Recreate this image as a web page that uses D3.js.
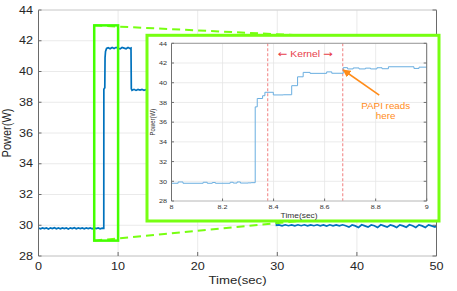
<!DOCTYPE html>
<html><head><meta charset="utf-8">
<script src="https://cdn.jsdelivr.net/npm/d3@7"></script>
<style>
body{margin:0;background:#fff}
svg{display:block}
text{font-family:"Liberation Sans",Arial,Helvetica,sans-serif}
</style>
</head><body>
<svg id="c" width="457" height="291"></svg>
<script>
// ---------- data ----------
const mainXTicks = [0, 10, 20, 30, 40, 50];
const mainYTicks = [28, 30, 32, 34, 36, 38, 40, 42, 44];
const insetXTicks = [8, 8.2, 8.4, 8.6, 8.8, 9];
const insetXTickLabels = ["8", "8.2", "8.4", "8.6", "8.8", "9"];
const insetYTicks = [28, 30, 32, 34, 36, 38, 40, 42, 44];

const mainTime = [
  0,0.25,0.5,0.75,1,1.25,1.5,1.75,2,2.25,2.5,2.75,3,3.25,3.5,3.75,4,4.25,4.5,4.75,
  5,5.25,5.5,5.75,6,6.25,6.5,6.75,7,7.25,7.5,7.75,8,8.2,
  8.21,8.33,8.36,8.42,8.55,
  8.75,9,9.25,9.5,9.75,10,10.25,10.5,10.75,11,11.25,11.5,11.62,
  11.66,11.75,12,12.25,12.5,12.75,13,13.25,13.5,13.75,14,16,18,20,22,24,26,28,29.85,
  29.9,30.2,30.6,31.0,31.4,31.8,32.2,32.6,33.0,33.4,33.8,34.2,34.6,35.0,35.4,35.8,36.2,36.6,
  37.0,37.4,37.8,38.2,38.6,39.0,39.4,39.8,40.2,40.6,41.0,41.4,41.8,42.2,42.6,43.0,43.4,43.8,
  44.2,44.6,45.0,45.4,45.8,46.2,46.6,47.0,47.4,47.8,48.2,48.6,49.0,49.4,49.8,50.0
];
const mainPower = [
  29.82,29.77,29.83,29.78,29.82,29.76,29.83,29.78,29.84,29.77,29.82,29.77,29.83,29.78,29.82,29.76,29.83,29.78,29.84,29.77,
  29.82,29.78,29.83,29.77,29.82,29.78,29.83,29.77,29.82,29.78,29.83,29.77,29.81,29.80,
  38.85,38.95,40.9,41.3,41.5,
  41.55,41.48,41.56,41.5,41.57,41.5,41.47,41.56,41.52,41.48,41.56,41.5,41.53,
  38.88,38.78,38.84,38.77,38.83,38.79,38.84,38.78,38.82,38.8,38.82,38.8,38.81,38.79,38.81,38.8,38.8,38.8,38.8,
  30.0,
  30.02,29.96,30.03,29.97,30.02,29.96,30.03,29.97,30.03,29.96,
  30.02,29.97,30.03,29.96,30.02,29.95,30.03,29.96,30.02,29.96,
  30.03,29.97,29.88,30.02,29.96,29.86,30.03,29.96,29.88,30.02,
  29.97,29.85,30.03,29.96,29.88,30.02,29.96,29.86,30.02,29.96,
  29.87,30.03,29.97,29.86,30.02,29.96,29.86,30.02,29.96,29.88,
  29.98
];

const insetTime = [
  8.000,8.026,8.045,8.124,8.140,8.160,8.172,8.230,8.242,8.257,8.270,8.300,8.312,
  8.328,8.336,8.357,8.366,8.399,8.438,8.471,8.494,8.516,8.543,8.608,8.628,
  8.673,8.690,8.712,8.735,8.760,8.780,8.805,8.825,8.850,8.950,8.970,9.000
];
const insetPower = [
  29.80,29.93,29.80,29.90,29.80,29.88,29.80,29.90,29.82,29.93,29.82,29.84,29.86,
  37.55,38.40,38.68,39.03,38.76,38.78,39.70,40.60,41.05,40.95,41.10,40.96,
  41.53,41.40,41.50,41.40,41.48,41.40,41.52,41.42,41.62,41.45,41.58,41.58
];

const zoomTime = [7, 10];
const zoomPower = [29, 43];
const kernelTimes = [8.377, 8.671];
const kernelLabel = ["\u2190", " Kernel ", "\u2192"];
const papiHead = [8.673, 41.29];
const papiTail = [8.814, 38.75];
const papiLines = ["PAPI reads", "here"];

// ---------- layout ----------
const svg = d3.select("#c");
const mx = d3.scaleLinear([0, 50], [38.5, 436.5]);
const my = d3.scaleLinear([28, 44], [256, 10]);
const ix = d3.scaleLinear([8, 9], [171.5, 426.7]);
const iy = d3.scaleLinear([28, 44], [201, 43.3]);
const insetBox = {x0: 147, y0: 35.3, x1: 439, y1: 221};
const SX = 1.2;
const lime = "#77ff11", limeRect = "#44ff00";

function txt(x, y, s, size, opt = {}) {
  const t = svg.append("text")
    .attr("transform", `translate(${x},${y}) scale(${SX},1)` + (opt.rot ? ` rotate(${opt.rot})` : ""))
    .attr("font-size", size)
    .attr("fill", opt.fill || "#262626")
    .attr("text-anchor", opt.anchor || "middle")
    .attr("dominant-baseline", "central");
  if (s !== null) t.text(s);
  return t;
}

// ---------- main axes ----------
const gGrid = svg.append("g").attr("stroke", "#e4e4e4").attr("stroke-width", 0.8);
mainXTicks.forEach(v => gGrid.append("line").attr("x1", mx(v)).attr("x2", mx(v)).attr("y1", my(44)).attr("y2", my(28)));
mainYTicks.forEach(v => gGrid.append("line").attr("y1", my(v)).attr("y2", my(v)).attr("x1", mx(0)).attr("x2", mx(50)));

const mainPts = mainTime.map((t, i) => [t, mainPower[i]]);
svg.append("path")
  .attr("d", d3.line().x(d => mx(d[0])).y(d => my(d[1]))(mainPts))
  .attr("fill", "none").attr("stroke", "#0072BD").attr("stroke-width", 1.7);

const gAx = svg.append("g").attr("stroke", "#6a6a6a").attr("stroke-width", 1);
gAx.append("line").attr("x1", mx(0)).attr("x2", mx(0)).attr("y1", my(44)).attr("y2", my(28));
gAx.append("line").attr("x1", mx(50)).attr("x2", mx(50)).attr("y1", my(44)).attr("y2", my(28));
gAx.append("line").attr("x1", mx(0)).attr("x2", mx(50)).attr("y1", my(28)).attr("y2", my(28)).attr("stroke", "#c8c8c8");
gAx.append("line").attr("x1", mx(0)).attr("x2", mx(50)).attr("y1", my(44)).attr("y2", my(44)).attr("stroke", "#d0d0d0");
mainXTicks.forEach(v => {
  gAx.append("line").attr("x1", mx(v)).attr("x2", mx(v)).attr("y1", my(28)).attr("y2", my(28) - 4);
  txt(mx(v), 266, String(v), 10.5);
});
mainYTicks.forEach(v => {
  gAx.append("line").attr("x1", mx(50)).attr("x2", mx(50) - 4).attr("y1", my(v)).attr("y2", my(v));
  gAx.append("line").attr("x1", mx(0)).attr("x2", mx(0) + 3).attr("y1", my(v)).attr("y2", my(v));
  txt(33, my(v), String(v), 10.5, {anchor: "end"});
});
txt((mx(0) + mx(50)) / 2, 280, "Time(sec)", 11);
txt(7, (my(28) + my(44)) / 2, "Power(W)", 11, {rot: -90});

// ---------- zoom connectors ----------
const dash = svg.append("g").attr("stroke", lime).attr("stroke-width", 2).attr("stroke-dasharray", "8,5").attr("fill", "none");
dash.append("line").attr("x1", mx(zoomTime[0])).attr("y1", my(zoomPower[1])).attr("x2", 300).attr("y2", insetBox.y0);
dash.append("line").attr("x1", mx(zoomTime[0])).attr("y1", my(zoomPower[0])).attr("x2", 300).attr("y2", insetBox.y1);

svg.append("rect")
  .attr("x", mx(zoomTime[0])).attr("y", my(zoomPower[1]))
  .attr("width", mx(zoomTime[1]) - mx(zoomTime[0])).attr("height", my(zoomPower[0]) - my(zoomPower[1]))
  .attr("fill", "none").attr("stroke", limeRect).attr("stroke-width", 2.5);

// ---------- inset ----------
svg.append("rect")
  .attr("x", insetBox.x0).attr("y", insetBox.y0)
  .attr("width", insetBox.x1 - insetBox.x0).attr("height", insetBox.y1 - insetBox.y0)
  .attr("fill", "#fff").attr("stroke", lime).attr("stroke-width", 3);

const iGrid = svg.append("g").attr("stroke", "#e6e6e6").attr("stroke-width", 0.8);
insetXTicks.forEach(v => iGrid.append("line").attr("x1", ix(v)).attr("x2", ix(v)).attr("y1", iy(44)).attr("y2", iy(28)));
insetYTicks.forEach(v => iGrid.append("line").attr("y1", iy(v)).attr("y2", iy(v)).attr("x1", ix(8)).attr("x2", ix(9)));

kernelTimes.forEach(t => svg.append("line")
  .attr("x1", ix(t)).attr("x2", ix(t)).attr("y1", iy(44)).attr("y2", iy(28))
  .attr("stroke", "#f28a8a").attr("stroke-width", 1.1).attr("stroke-dasharray", "3,2"));

const insetPts = insetTime.map((t, i) => [t, insetPower[i]]);
svg.append("path")
  .attr("d", d3.line().curve(d3.curveStepAfter).x(d => ix(d[0])).y(d => iy(d[1]))(insetPts))
  .attr("fill", "none").attr("stroke", "#6aaee0").attr("stroke-width", 1);

const iAx = svg.append("g").attr("stroke", "#707070").attr("stroke-width", 1);
iAx.append("line").attr("x1", ix(8)).attr("x2", ix(8)).attr("y1", iy(44)).attr("y2", iy(28));
iAx.append("line").attr("x1", ix(9)).attr("x2", ix(9)).attr("y1", iy(44)).attr("y2", iy(28));
iAx.append("line").attr("x1", ix(8)).attr("x2", ix(9)).attr("y1", iy(44)).attr("y2", iy(44)).attr("stroke", "#9a9a9a");
iAx.append("line").attr("x1", ix(8)).attr("x2", ix(9)).attr("y1", iy(28)).attr("y2", iy(28)).attr("stroke", "#c0c0c0");
insetXTicks.forEach((v, i) => {
  iAx.append("line").attr("x1", ix(v)).attr("x2", ix(v)).attr("y1", iy(28)).attr("y2", iy(28) - 2.5);
  txt(ix(v), 207, insetXTickLabels[i], 6, {fill: "#333"});
});
insetYTicks.forEach(v => {
  iAx.append("line").attr("x1", ix(9)).attr("x2", ix(9) - 3).attr("y1", iy(v)).attr("y2", iy(v));
  iAx.append("line").attr("x1", ix(8)).attr("x2", ix(8) + 2.5).attr("y1", iy(v)).attr("y2", iy(v));
  txt(167, iy(v), String(v), 6, {anchor: "end", fill: "#333"});
});
txt((ix(8) + ix(9)) / 2, 215.5, "Time(sec)", 7, {fill: "#333"});
txt(152, (iy(28) + iy(44)) / 2, "Power(W)", 6, {rot: -90, fill: "#333"});

// kernel label
const kt = txt(ix((kernelTimes[0] + kernelTimes[1]) / 2), iy(43), null, 8.6, {fill: "#e8404a"});
kernelLabel.forEach((s, i) => kt.append("tspan")
  .attr("font-family", i === 1 ? null : "DejaVu Sans")
  .attr("font-size", i === 1 ? null : 9.5)
  .text(s));

// PAPI annotation
const orange = "#ff8c1a";
svg.append("defs").append("marker")
  .attr("id", "ah").attr("viewBox", "0 0 10 10").attr("refX", 9).attr("refY", 5)
  .attr("markerWidth", 5).attr("markerHeight", 5).attr("orient", "auto")
  .append("path").attr("d", "M0,0 L10,5 L0,10 z").attr("fill", orange);
svg.append("line")
  .attr("x1", ix(papiTail[0])).attr("y1", iy(papiTail[1]))
  .attr("x2", ix(papiHead[0])).attr("y2", iy(papiHead[1]))
  .attr("stroke", orange).attr("stroke-width", 1.6).attr("marker-end", "url(#ah)");
txt(385.7, 106.7, papiLines[0], 8.2, {fill: orange});
txt(385.7, 116, papiLines[1], 8.2, {fill: orange});
</script>
</body></html>
